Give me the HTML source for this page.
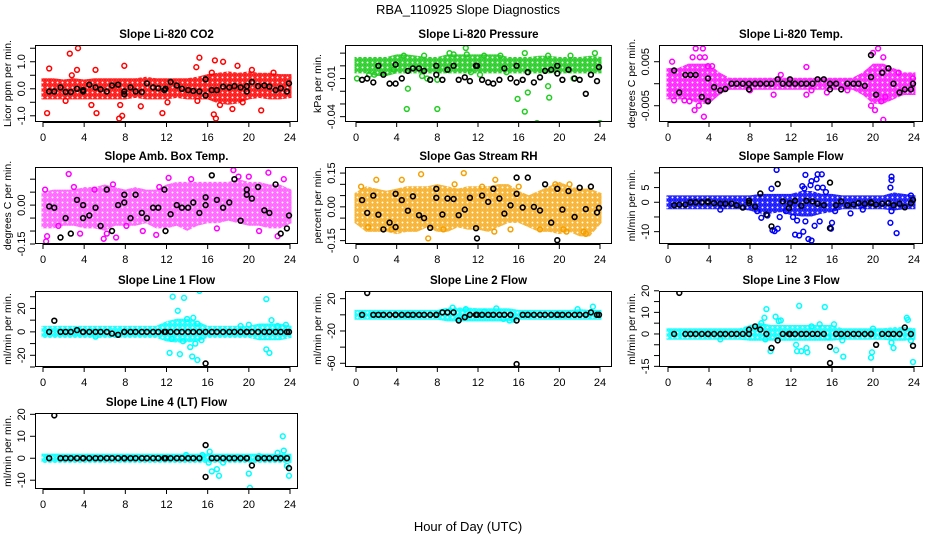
<!DOCTYPE html>
<html><head><meta charset="utf-8"><title>RBA_110925 Slope Diagnostics</title>
<style>
html,body{margin:0;padding:0;background:#fff;}
svg{display:block;font-family:"Liberation Sans",Arial,sans-serif;}
</style></head>
<body>
<svg id="chart" width="936" height="540" viewBox="0 0 936 540" xmlns="http://www.w3.org/2000/svg">
<rect width="936" height="540" fill="#fff"/>
<text x="468" y="14" text-anchor="middle" font-size="13">RBA_110925  Slope Diagnostics</text>
<text x="468" y="531" text-anchor="middle" font-size="13">Hour of Day (UTC)</text>
</svg>
<script>
// ---------- data ----------
const bandHours = [0,1,2,3,4,5,6,7,8,9,10,11,12,13,14,15,16,17,18,19,20,21,22,23,24];
const blackHours = [0.6,1.1,1.7,2.2,2.7,3.3,3.9,3.9,4.5,5.1,5.6,6.2,6.7,7.3,7.9,7.9,8.5,9.0,9.6,10.1,10.7,11.2,11.8,11.9,12.4,13.0,13.5,14.1,14.6,15.2,15.8,15.8,16.4,16.9,17.5,18.1,18.6,19.2,19.8,19.8,20.3,20.9,21.5,22.0,22.6,23.1,23.7,23.9];
const xTicks = [0,4,8,12,16,20,24];

// Panel 1: CO2
const co2Lo = [-0.3,-0.3,-0.3,-0.3,-0.3,-0.3,-0.3,-0.3,-0.3,-0.25,-0.3,-0.3,-0.3,-0.25,-0.3,-0.3,-0.3,-0.45,-0.5,-0.45,-0.3,-0.25,-0.3,-0.3,-0.25];
const co2Hi = [0.3,0.3,0.25,0.3,0.25,0.3,0.3,0.3,0.3,0.3,0.35,0.3,0.3,0.3,0.3,0.35,0.45,0.5,0.55,0.5,0.55,0.5,0.5,0.45,0.45];
const co2Pts = [0.4,-0.9,0.6,0.75,2.6,1.3,3.4,1.5,3.3,0.7,2.8,0.5,5.1,0.7,4.7,-0.6,5.2,-0.9,7.5,-0.6,7.4,-1.1,7.7,-1.0,7.9,0.85,9.5,-0.65,11.6,-0.9,14.9,0.8,15.2,1.15,15.0,-0.45,16.6,-0.95,16.8,-1.1,16.7,1.05,17.5,1.0,18.4,-0.75,18.9,0.85,21.2,-0.8,16.4,0.6,17.2,-0.6,19.4,-0.5,20.3,0.7,22.4,0.6,12.1,-0.5,2.2,-0.45];
const co2Black = [-0.1,-0.1,0.05,-0.12,-0.12,0.0,-0.05,-0.1,0.15,0.05,-0.02,-0.1,0.12,0.15,-0.2,-0.1,0.05,-0.1,-0.12,0.2,0.05,0.02,-0.05,0.0,0.25,0.12,0.0,-0.05,-0.08,-0.1,0.35,-0.25,-0.05,-0.05,0.08,0.05,0.1,0.05,0.1,-0.1,0.25,0.1,0.12,0.08,-0.05,0.02,-0.1,0.2];
const co2Ticks = [-1,-0.5,0,0.5,1,1.5];
const co2Labels = ["-1.0","","0.0","","1.0",""];

// Panel 2: Pressure
const presLo = [-0.004,-0.004,-0.006,-0.006,-0.004,-0.004,-0.004,-0.004,-0.004,-0.004,-0.004,-0.004,-0.004,-0.004,-0.004,-0.004,-0.004,-0.004,-0.004,-0.004,-0.004,-0.004,-0.004,-0.004,-0.004];
const presHi = [0.005,0.005,0.005,0.005,0.007,0.007,0.006,0.005,0.005,0.007,0.007,0.007,0.007,0.007,0.007,0.005,0.005,0.005,0.006,0.006,0.005,0.005,0.005,0.006,0.005];
const presPts = [0.1,-0.01,1.3,-0.007,1.8,-0.007,4.7,0.008,5.1,-0.018,5.0,-0.034,6.5,-0.008,6.7,0.008,8.0,-0.034,8.0,-0.011,9.2,0.01,9.6,0.009,10.8,0.014,10.9,0.009,11.3,-0.005,12.2,-0.007,12.6,0.008,14.2,0.008,14.8,-0.005,15.9,-0.026,16.6,0.01,16.6,-0.036,16.9,-0.021,17.8,-0.045,18.9,0.008,18.9,-0.016,19.0,-0.025,21.1,0.008,21.4,-0.01,23.5,0.01,24.0,-0.045,7.0,-0.01,3.7,-0.003];
const presBlack = [-0.011,-0.01,-0.013,0.0,-0.007,-0.014,-0.014,0.001,-0.01,-0.004,-0.002,-0.002,-0.004,-0.011,0.0,-0.007,-0.011,-0.003,0.0,-0.011,-0.009,-0.012,0.0,0.0,-0.011,-0.013,-0.014,-0.011,-0.002,-0.01,0.0,-0.013,-0.011,-0.005,-0.013,-0.009,-0.004,-0.003,-0.006,0.0,-0.011,-0.003,-0.01,-0.011,-0.022,-0.007,-0.012,-0.001];
const presTicks = [-0.04,-0.03,-0.02,-0.01,0,0.01];
const presLabels = ["-0.04","","","-0.01","",""];

// Panel 3: Li-820 Temp
const tempLo = [-0.003,-0.003,-0.003,-0.004,-0.004,-0.002,-0.0008,-0.0008,-0.0008,-0.0008,-0.0008,-0.0008,-0.0008,-0.0008,-0.0008,-0.0008,-0.0008,-0.0008,-0.0008,-0.002,-0.004,-0.004,-0.003,-0.002,-0.002];
const tempHi = [0.003,0.003,0.004,0.004,0.004,0.002,0.0008,0.0008,0.0008,0.0008,0.0008,0.0008,0.0008,0.0008,0.0008,0.0008,0.0008,0.0008,0.0008,0.002,0.004,0.004,0.003,0.002,0.002];
const tempPts = [2.7,0.008,3.4,0.008,3.6,0.006,3.1,0.006,2.4,0.006,0.4,0.005,3.0,-0.005,2.6,-0.006,3.5,-0.0075,3.8,-0.0038,0.6,-0.0038,1.6,-0.0038,2.1,-0.004,3.9,0.004,4.3,0.004,13.5,0.0038,10.3,-0.0025,20.5,0.008,20.0,0.007,19.8,-0.005,20.2,-0.006,21.0,-0.0082,21.0,0.006,21.2,-0.003,20.8,-0.004,11.0,0.002,13.5,-0.0025,15.5,-0.002,22.5,0.0025,23.9,0.0012,8.0,-0.0015,14.0,-0.0015,17.5,-0.0015];
const tempBlack = [0.003,-0.002,0.002,0.002,0.002,-0.003,0.0012,-0.004,-0.0008,-0.0015,-0.0012,0,0,0,0,-0.0013,0,0,0,0,0.001,0,0,0.001,0,0,0,0,0.001,0.001,0,-0.0013,0,-0.0013,0,0,0,-0.0005,0.0065,0.0015,-0.0025,0.0025,0.0035,0,-0.002,-0.0013,-0.0013,0];
const tempTicks = [-0.005,0,0.005];
const tempLabels = ["-0.005","","0.005"];

// Panel 4: Amb. Box Temp
const ambLo = [-0.08,-0.08,-0.07,-0.07,-0.08,-0.08,-0.09,-0.07,-0.07,-0.07,-0.06,-0.08,-0.08,-0.07,-0.09,-0.07,-0.06,-0.06,-0.05,-0.06,-0.07,-0.07,-0.08,-0.08,-0.06];
const ambHi = [0.04,0.05,0.05,0.05,0.06,0.06,0.07,0.06,0.05,0.06,0.05,0.05,0.07,0.08,0.08,0.08,0.08,0.08,0.08,0.09,0.08,0.08,0.07,0.07,0.05];
const ambPts = [0.4,-0.12,0.3,-0.14,2.5,0.12,3.6,-0.11,5.9,-0.13,6.2,-0.11,7.1,-0.125,9.7,-0.1,11.0,-0.115,12.2,0.105,14.4,0.1,18.5,0.135,19.0,0.11,21.9,0.125,22.8,-0.12,23.4,0.1,0.2,0.06,1.5,-0.08,5.0,0.06,6.8,0.08,11.3,0.07,16.9,-0.09,20.0,0.11,21.0,-0.1,3.0,0.07,8.1,-0.08];
const ambBlack = [-0.005,-0.01,-0.125,-0.05,-0.11,0.02,0.0,-0.05,-0.04,-0.01,-0.08,0.06,-0.1,0.0,0.04,0.01,-0.05,0.04,-0.03,-0.05,-0.01,-0.01,0.06,-0.1,-0.035,0.0,-0.01,-0.01,0.01,-0.03,0.03,0.0,0.115,0.02,-0.01,0.01,0.1,-0.06,0.06,0.04,0.025,0.07,-0.02,-0.03,0.08,-0.11,-0.09,-0.04];
const ambTicks = [-0.15,-0.1,-0.05,0,0.05,0.1];
const ambLabels = ["-0.15","","","0.00","",""];

// Panel 5: Gas Stream RH
const rhLo = [-0.06,-0.1,-0.1,-0.1,-0.11,-0.1,-0.1,-0.08,-0.1,-0.1,-0.08,-0.09,-0.09,-0.1,-0.08,-0.06,-0.06,-0.08,-0.1,-0.1,-0.11,-0.1,-0.12,-0.12,-0.06];
const rhHi = [0.05,0.08,0.07,0.06,0.07,0.08,0.08,0.08,0.09,0.08,0.07,0.08,0.08,0.08,0.09,0.09,0.06,0.04,0.06,0.08,0.1,0.08,0.07,0.07,0.05];
const rhPts = [2.0,0.12,4.5,0.12,6.4,0.145,10.6,0.15,7.1,-0.14,13.7,0.12,13.6,-0.11,15.2,-0.1,18.1,-0.1,20.4,-0.1,20.7,-0.11,22.4,-0.11,22.6,-0.12,21.0,0.1,0.5,0.09,9.7,0.1,12.4,0.09,19.6,0.1,8.6,-0.1,3.5,-0.1,1.2,-0.09,16.0,0.09];
const rhBlack = [0.03,-0.027,0.05,-0.035,-0.1,-0.07,0.058,-0.09,0.03,-0.017,0.047,-0.037,-0.05,-0.093,0.04,0.08,-0.034,0.037,0.035,-0.037,-0.012,0.04,-0.095,-0.14,0.05,0.022,0.08,0.037,-0.03,0.007,0.058,0.13,-0.003,0.13,0.0,-0.016,0.1,-0.07,0.08,-0.148,-0.012,0.07,-0.045,0.085,-0.01,0.09,-0.025,-0.005];
const rhTicks = [-0.15,-0.1,-0.05,0,0.05,0.1,0.15];
const rhLabels = ["-0.15","","","0.00","","","0.15"];

// Panel 6: Sample Flow
const sfLo = [-1.5,-1.5,-1.5,-1.5,-1.5,-1.5,-1.5,-1.5,-2,-3,-3,-2.5,-3.5,-4,-4,-3,-2.5,-1.5,-1.5,-1.5,-1.5,-1.5,-2,-1.5,-1.5];
const sfHi = [1.5,1.5,1.5,1.5,1.5,1.5,1.5,1.5,1.5,2,2,2,2,3,3,2,2,1.5,1.5,1.5,1.5,1.5,2.5,2,1.5];
const sfPts = [10.6,11,13.4,9.3,14.6,9.5,15.0,9.5,14.0,7.2,14.5,7.8,13.1,5.5,13.9,5.8,14.6,5,15.1,5,10.1,4.6,13.3,4.7,15.4,3.5,12.2,-5,10.9,-5,9.1,-5.3,9.7,-4.5,8.7,-3,12.4,-11,12.8,-11.3,13.2,-10,13.7,-12.5,14.0,-13,14.3,-8,14.8,-6.5,16.0,-7,15.9,-9,12.6,-6.2,13.4,-6.5,10.2,-9.5,10.4,-9.8,10.7,-9,17.8,-3.8,19.0,-2.5,21.8,8.7,21.8,7.5,21.7,5,21.7,-7,22.3,-10.5,21.8,-3,5.1,-2.5,23.7,2.3,16.3,-3,11.5,-3];
const sfBlack = [-1,-0.8,-0.8,0,0,0,0,0.3,-0.3,-0.5,-0.5,-0.5,-1,-1.8,0.5,-0.3,-1.5,3,-4.2,-8.2,6.2,0.3,-2,-0.3,0.5,-1.2,0.5,0.3,-0.5,-1,6.7,-8.8,-1,0.3,-1,-0.8,-0.3,-0.5,-0.3,0,-0.8,-0.5,-0.3,-1,-0.5,-1.7,-0.3,0.8];
const sfTicks = [-10,-5,0,5,10];
const sfLabels = ["-10","","0","5",""];

// Panel 7: Line 1 Flow
const l1Lo = [-3,-3,-3,-3,-3,-3,-3,-3,-3,-3,-3,-3,-6,-7,-7,-6,-3,-3,-3,-3,-3,-5,-5,-5,-3];
const l1Hi = [3,3,3,3,3,3,3,3,3,3,3,3,7,9,9,7,3,3,3,3,3,5,5,5,3];
const l1Pts = [12.6,30,13.7,29,15.2,35,13.1,18,21.7,28,12.3,-18,13.3,-19,14.5,-21,15.0,-24,14.3,-13,14.8,-10,22.2,10,21.7,-15,22.0,-18,15.4,-7,12.5,-6,13.6,-8,14.0,11,14.6,12,15.0,7,19.2,5,20.0,6,22.8,5,23.6,6,5.1,-4];
const l1Black = [0,9.5,0,0,0,1.5,0,0,0,0,0,0,-1.5,-2.5,0,0,0,0,0,0,0,0,0,0,0,0,0,0,0,0,0,-27,0,0,0,0,0,0,0,0,0,0,0,0,0,0,0,0];
const l1Ticks = [-30,-20,-10,0,10,20,30];
const l1Labels = ["","-20","","0","","20",""];

// Panel 8: Line 2 Flow
const l2Lo = [-3,-3,-3,-3,-3,-3,-3,-3,-3,-5,-5,-5,-5,-5,-5,-5,-3,-3,-3,-3,-3,-3,-3,-3,-3];
const l2Hi = [3,3,3,3,3,3,3,3,3,6,6,6,5,5,5,5,3,3,3,3,3,3,4,3,3];
const l2Pts = [9.5,9,10.8,7,13.8,8,21.8,7,23.3,10,10.1,-6,15.1,-7,15.5,-6,14.5,-5,12.6,4,9.0,2];
const l2Black = [0,27,0,0,0,0,0,0,0,0,0,0,0,0,0,0,3,3,3,-7,-3,0,0,0,0,0,0,0,0,0,-7,-61,0,0,0,0,0,0,0,0,0,0,0,0,0,3,0,0];
const l2Ticks = [-60,-40,-20,0,20];
const l2Labels = ["-60","","-20","","20"];

// Panel 9: Line 3 Flow
const l3Lo = [-1.5,-1.5,-1.5,-1.5,-1.5,-1.5,-1.5,-1.5,-2,-2,-2,-2,-2,-2,-2,-2,-2,-1.5,-1.5,-1.5,-1.5,-1.5,-2,-2,-1.5];
const l3Hi = [1.5,1.5,1.5,1.5,1.5,1.5,1.5,1.5,3,4,3,3,3,3,3,3,3,1.5,1.5,1.5,1.5,1.5,2,2,1.5];
const l3Pts = [9.6,11.5,12.8,13,15.3,12.5,9.4,7.5,10.5,8,10.8,6,11.0,6.3,9.1,5,10.0,-8,12.5,-5,12.6,-8,13.0,-8,13.5,-6.5,13.6,-8.5,17.1,-10.5,15.6,-1.5,16.2,4.5,16.4,-7.5,19.8,-11,19.9,-8.5,21.8,-4,22.0,-6.5,23.3,7.5,23.4,6.5,23.7,-3,23.9,-13,5.1,-2.5,9.5,-2.5,14.0,3.5,14.8,4.5,20.0,2.5,17.0,-3];
const l3Black = [0,19,0,0,0,0,0,0,0,0,0,0,0,0,0,2,3.5,2,0,-6.5,-3,0,0,0,0,0,0,0,0,0,-6,-13.5,0,0,0,0,0,0,0,0,-5,0,0,0,0,3,0,-5.5];
const l3Ticks = [-15,-10,-5,0,5,10,15,20];
const l3Labels = ["-15","","","0","","10","","20"];

// Panel 10: Line 4 (LT) Flow
const l4Lo = [-1,-1,-1,-1,-1,-1,-1,-1,-1,-1,-1,-1,-1,-1,-1,-1,-1,-1,-1,-1,-1,-1,-1,-1,-1];
const l4Hi = [1,1,1,1,1,1,1,1,1,1,1,1,1,1,1,1,1,1,1,1,1,1,1,1,1];
const l4Pts = [16.2,3,16.4,-6,16.9,-5,17.1,-8,16.1,-2,15.5,1.5,13.9,1.5,20.0,-7,20.1,-13.5,21.0,1,22.8,2.5,23.3,10,23.4,3.5,23.7,-3.5,23.9,-8,17.5,-2];
const l4Black = [0,19.5,0,0,0,0,0,0,0,0,0,0,0,0,0,0,0,0,0,0,0,0,0,0,0,0,0,0,0,0,6,-8.5,0,0,0,0,0,0,0,0,-3.3,0,0,0,0,0,0,-4.5];
const l4Ticks = [-10,0,10,20];
const l4Labels = ["-10","0","10","20"];

// ---------- layout ----------
const cols = [{l:35,r:298,x0:43,x24:290},{l:345,r:612,x0:356,x24:600},{l:659,r:923,x0:668,x24:914}];
const rows = [{t:45,b:122},{t:167,b:244},{t:291,b:367},{t:413,b:489}];
const panels = [
 {name:"co2",title:"Slope Li-820 CO2",ylab:"Licor ppm per min.",c:0,r:0,ymin:-1.23,ymax:1.62,col:"#ff0000",op:0.9,lo:co2Lo,hi:co2Hi,pts:co2Pts,blk:co2Black,ticks:co2Ticks,labels:co2Labels},
 {name:"pressure",title:"Slope Li-820 Pressure",ylab:"kPa per min.",c:1,r:0,ymin:-0.0442,ymax:0.0164,col:"#22cc22",op:0.95,lo:presLo,hi:presHi,pts:presPts,blk:presBlack,ticks:presTicks,labels:presLabels},
 {name:"li820-temp",title:"Slope Li-820 Temp.",ylab:"degrees C per min.",c:2,r:0,ymin:-0.0087,ymax:0.0088,col:"#ff00ff",op:0.85,lo:tempLo,hi:tempHi,pts:tempPts,blk:tempBlack,ticks:tempTicks,labels:tempLabels},
 {name:"amb-box-temp",title:"Slope Amb. Box Temp.",ylab:"degrees C per min.",c:0,r:1,ymin:-0.15,ymax:0.147,col:"#ff00ff",op:0.6,lo:ambLo,hi:ambHi,pts:ambPts,blk:ambBlack,ticks:ambTicks,labels:ambLabels},
 {name:"gas-stream-rh",title:"Slope Gas Stream RH",ylab:"percent per min.",c:1,r:1,ymin:-0.165,ymax:0.177,col:"#f5a000",op:0.8,lo:rhLo,hi:rhHi,pts:rhPts,blk:rhBlack,ticks:rhTicks,labels:rhLabels},
 {name:"sample-flow",title:"Slope Sample Flow",ylab:"ml/min per min.",c:2,r:1,ymin:-14.2,ymax:12,col:"#0000ff",op:0.9,lo:sfLo,hi:sfHi,pts:sfPts,blk:sfBlack,ticks:sfTicks,labels:sfLabels},
 {name:"line1-flow",title:"Slope Line 1 Flow",ylab:"ml/min per min.",c:0,r:2,ymin:-30,ymax:34.9,col:"#00ffff",op:0.9,lo:l1Lo,hi:l1Hi,pts:l1Pts,blk:l1Black,ticks:l1Ticks,labels:l1Labels},
 {name:"line2-flow",title:"Slope Line 2 Flow",ylab:"ml/min per min.",c:1,r:2,ymin:-64.6,ymax:29.5,col:"#00ffff",op:0.9,lo:l2Lo,hi:l2Hi,pts:l2Pts,blk:l2Black,ticks:l2Ticks,labels:l2Labels},
 {name:"line3-flow",title:"Slope Line 3 Flow",ylab:"ml/min per min.",c:2,r:2,ymin:-15.3,ymax:19.9,col:"#00ffff",op:0.9,lo:l3Lo,hi:l3Hi,pts:l3Pts,blk:l3Black,ticks:l3Ticks,labels:l3Labels},
 {name:"line4-flow",title:"Slope Line 4 (LT) Flow",ylab:"ml/min per min.",c:0,r:3,ymin:-14,ymax:20.6,col:"#00ffff",op:0.9,lo:l4Lo,hi:l4Hi,pts:l4Pts,blk:l4Black,ticks:l4Ticks,labels:l4Labels}
];

const NS = "http://www.w3.org/2000/svg";
const svg = document.getElementById("chart");
function mk(tag, attrs, parent){
  const e = document.createElementNS(NS, tag);
  for (const k in attrs) e.setAttribute(k, attrs[k]);
  parent.appendChild(e);
  return e;
}
const defs = mk("defs", {}, svg);

panels.forEach(p => {
  const C = cols[p.c], R = rows[p.r];
  const xs = h => C.x0 + (C.x24 - C.x0) * h / 24;
  const ys = v => R.b - (R.b - R.t) * (v - p.ymin) / (p.ymax - p.ymin);
  const g = mk("g", {}, svg);
  
  

  const clipId = "clip-" + p.name;
  const cp = mk("clipPath", {id: clipId}, defs);
  mk("rect", {x: C.l, y: R.t, width: C.r - C.l, height: R.b - R.t}, cp);

  // texture pattern of open circles
  const patId = "pat-" + p.name;
  const pat = mk("pattern", {id: patId, width: 5, height: 5, patternUnits: "userSpaceOnUse"}, defs);
  mk("circle", {cx: 2.5, cy: 2.5, r: 1.8, fill: "none", stroke: p.col, "stroke-width": 1.6}, pat);
  mk("circle", {cx: 0, cy: 0, r: 1.2, fill: p.col}, pat);
  mk("circle", {cx: 5, cy: 0, r: 1.2, fill: p.col}, pat);
  mk("circle", {cx: 0, cy: 5, r: 1.2, fill: p.col}, pat);
  mk("circle", {cx: 5, cy: 5, r: 1.2, fill: p.col}, pat);

  const plot = mk("g", {"clip-path": "url(#" + clipId + ")"}, g);
  
  

  let d = "";
  bandHours.forEach((h, i) => {
    const hx = i === 0 ? h - 0.15 : (i === bandHours.length - 1 ? h + 0.15 : h);
    d += (i ? "L" : "M") + xs(hx).toFixed(1) + "," + (ys(p.hi[i]) - 2.5).toFixed(1);
  });
  for (let i = bandHours.length - 1; i >= 0; i--) {
    const h = bandHours[i];
    const hx = i === 0 ? h - 0.15 : (i === bandHours.length - 1 ? h + 0.15 : h);
    d += "L" + xs(hx).toFixed(1) + "," + (ys(p.lo[i]) + 2.5).toFixed(1);
  }
  d += "Z";
  const band = mk("path", {d: d, fill: "url(#" + patId + ")", "fill-opacity": p.op, stroke: "none"}, plot);
  
  

  for (let i = 0; i < p.pts.length; i += 2) {
    const c = mk("circle", {cx: xs(p.pts[i]).toFixed(1), cy: ys(p.pts[i+1]).toFixed(1), r: 2.4, fill: "none", stroke: p.col, "stroke-width": 1.5}, plot);
    
    
  }
  blackHours.forEach((h, i) => {
    const c = mk("circle", {cx: xs(h).toFixed(1), cy: ys(p.blk[i]).toFixed(1), r: 2.4, fill: "none", stroke: "#000", "stroke-width": 1.6}, plot);
    
    
  });

  const box = mk("rect", {x: C.l + 0.5, y: R.t + 0.5, width: C.r - C.l - 1, height: R.b - R.t - 1, fill: "none", stroke: "#000", "stroke-width": 1}, g);
  
  

  const t = mk("text", {x: (C.l + C.r) / 2, y: R.t - 7, "text-anchor": "middle", "font-size": 11.5, "font-weight": "bold"}, g);
  t.textContent = p.title;
  
  

  xTicks.forEach(v => {
    const x = xs(v);
    mk("line", {x1: x, x2: x, y1: R.b, y2: R.b + 5, stroke: "#000"}, g);
    const lb = mk("text", {x: x, y: R.b + 19, "text-anchor": "middle", "font-size": 11}, g);
    lb.textContent = v;
    
    
  });
  mk("line", {x1: xs(0), x2: xs(24), y1: R.b + 0.5, y2: R.b + 0.5, stroke: "#000"}, g);

  p.ticks.forEach((v, i) => {
    const y = ys(v);
    mk("line", {x1: C.l - 5, x2: C.l, y1: y, y2: y, stroke: "#000"}, g);
    if (p.labels[i]) {
      const lx = C.l - 10;
      const lb = mk("text", {x: lx, y: y, "text-anchor": "middle", "font-size": 11, transform: "rotate(-90 " + lx + " " + y + ")"}, g);
      lb.textContent = p.labels[i];
      
      
    }
  });
  const ly = (R.t + R.b) / 2, lxx = C.l - 24;
  const yl = mk("text", {x: lxx, y: ly, "text-anchor": "middle", "font-size": 10.5, transform: "rotate(-90 " + lxx + " " + ly + ")"}, g);
  yl.textContent = p.ylab;
  
  
});
</script>
</body></html>
